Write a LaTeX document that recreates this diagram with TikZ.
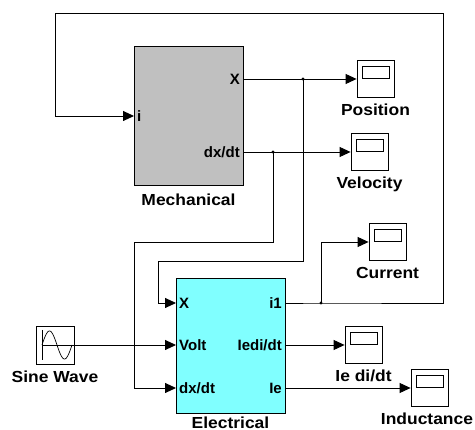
\documentclass[tikz,border=0pt]{standalone}
\usepackage{fontspec}
\setmainfont{Liberation Sans}
\newfontfamily\lblfont{Liberation Sans}[FakeStretch=1.09]
\usepackage{xcolor}
\usetikzlibrary{arrows.meta,calc,positioning}
\definecolor{mgray}{HTML}{C0C0C0}
\definecolor{ecyan}{HTML}{80FFFF}
\tikzset{
  >={Triangle[length=11pt,width=10pt]},
  wire/.style={black, line width=0.9pt},
  sig/.style={wire, ->},
  blk/.style={draw=black, line width=0.9pt, minimum width=109pt, inner sep=0pt},
  scopebox/.style={draw=black, fill=white, line width=0.8pt, minimum width=37pt,
                   minimum height=37pt, inner sep=0pt,
                   path picture={\draw[line width=0.8pt] (path picture bounding box.center)
                                 ++(-13,-13) rectangle ++(27,12);}},
  srcbox/.style={draw=black, fill=white, line width=0.8pt, minimum width=38pt,
                 minimum height=38pt, inner sep=0pt,
                 path picture={\draw[line width=0.7pt] (path picture bounding box.center)
                               ++(-13,-15) -- ++(0,30);
                               \draw[line width=0.7pt] (path picture bounding box.center)
                               ++(-13,0) -- ++(32,0);
                               \draw[line width=0.7pt, shift={(path picture bounding box.center)}]
                               plot[domain=0:360, samples=50] ({-13+\x/12},{-14*sin(\x)});}},
  blbl/.style={font=\lblfont\bfseries\fontsize{16}{18}\selectfont, text height=11.5pt,
               text depth=3pt, inner sep=1pt},
  plbl/.style={font=\bfseries\fontsize{15}{17}\selectfont, text height=11pt,
               text depth=0pt, inner sep=3pt},
}

\begin{document}
\begin{tikzpicture}[x=1pt,y=-1pt]
  \useasboundingbox (0,0) rectangle (475,430);

  % blocks
  \node[blk, fill=mgray, minimum height=139pt] (mech) at (188.5,115.5) {};
  \node[blk, fill=ecyan, minimum height=135pt] (elec) at (230.5,345.5) {};
  \node[blbl, below=7pt of mech] (mechl) {Mechanical};
  \node[blbl, text depth=0pt, inner sep=0.5pt, below=2.5pt of elec] (elecl) {Electrical};

  % ports
  \node[plbl, anchor=west] (mi) at (134,116) {i};
  \node[plbl, anchor=east] (mX) at (243,79) {X};
  \node[plbl, anchor=east] (mV) at (243,152) {dx/dt};
  \node[plbl, anchor=west] (eX) at (176,303) {X};
  \node[plbl, anchor=west] (eV) at (176,345) {Volt};
  \node[plbl, anchor=west] (edx) at (176,388) {dx/dt};
  \node[plbl, anchor=east] (ei1) at (285,303) {i1};
  \node[plbl, anchor=east] (eD) at (285,345) {Iedi/dt};
  \node[plbl, anchor=east] (eI) at (285,388) {Ie};

  % source and scopes
  \node[srcbox] (sine) at (55,345) {};
  \node[blbl, below=5pt of sine] (sinel) {Sine Wave};
  \node[scopebox] (pos) at (375.5,79) {};
  \node[blbl, below=5pt of pos] (posl) {Position};
  \node[scopebox] (vel) at (369.5,152) {};
  \node[blbl, below=5pt of vel] (vell) {Velocity};
  \node[scopebox] (cur) at (387.5,242) {};
  \node[blbl, below=5pt of cur] (curl) {Current};
  \node[scopebox] (ied) at (363.5,345) {};
  \node[blbl, below=5pt of ied] (iedl) {Ie di/dt};
  \node[scopebox] (ind) at (429.5,388) {};
  \node[blbl, below=5pt of ind, xshift=-2.5pt] (indl) {Inductance};

  % branch points
  \coordinate (jx) at (303,79);
  \coordinate (jv) at (273,152);
  \coordinate (ji) at (321,303);

  % mechanical outputs
  \draw[sig] (mX.east) -- (pos.west);
  \draw[sig] (mV.east) -- (vel.west);
  \draw[sig] (jx) |- (158,261) |- (eX.west);
  \draw[sig] (jv) |- (134,242) |- (edx.west);

  % electrical
  \draw[sig] (sine.east) -- (eV.west);
  \draw[sig] (eD.east) -- (ied.west);
  \draw[sig] (eI.east) -- (ind.west);
  \draw[sig] (ji) |- (cur.west);

  % current fed back to i
  \draw[sig] (ei1.east) -- (ji) -| (443,13) -| (55,116) -- (mi.west);

  \foreach \j in {jx,jv,ji} \fill (\j) circle (1.7pt);

\end{tikzpicture}
\end{document}
